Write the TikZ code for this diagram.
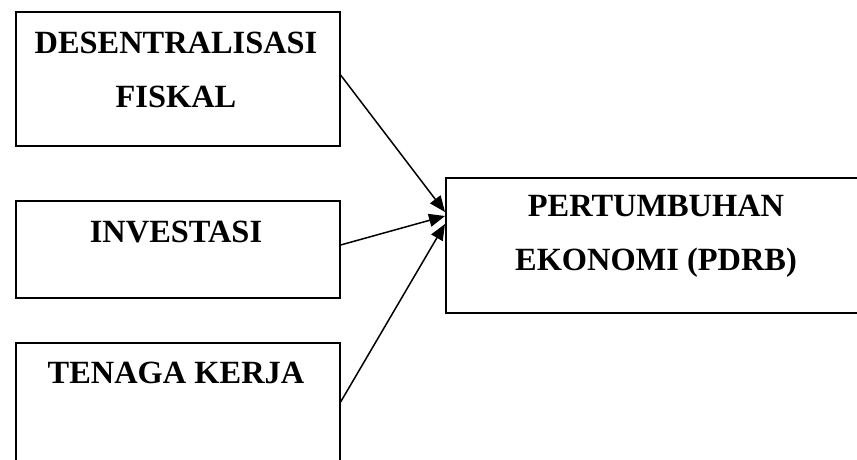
\documentclass[tikz,border=0pt]{standalone}
\usepackage{fontspec}
\setmainfont{Liberation Serif}
\usetikzlibrary{arrows.meta}
\begin{document}
\begin{tikzpicture}[x=1pt,y=-1pt,
  boxshape/.style={draw,line width=1.6pt,rectangle,inner sep=0pt,anchor=north west},
  lbl/.style={anchor=base,inner sep=0pt,font=\bfseries\fontsize{32.4}{38}\selectfont},
  link/.style={line width=1.5pt,-{Triangle[length=16pt,width=13pt]}}]
\useasboundingbox (0,0) rectangle (857,459);
\clip (0,0) rectangle (857,459);
\node[boxshape,minimum width=324pt,minimum height=134pt] (b1) at (15,11) {};
\node[boxshape,minimum width=324pt,minimum height=97pt] (b2) at (15,200) {};
\node[boxshape,minimum width=324pt,minimum height=140pt] (b3) at (15,342) {};
\node[boxshape,minimum width=430pt,minimum height=135pt] (b4) at (445,177) {};
\node[lbl] (t1a) at (176,53) {DESENTRALISASI};
\node[lbl] (t1b) at (176,107) {FISKAL};
\node[lbl] (t2) at (176,242) {INVESTASI};
\node[lbl] (t3) at (176,383) {TENAGA KERJA};
\node[lbl] (t4a) at (656,216) {PERTUMBUHAN};
\node[lbl] (t4b) at (656,270) {EKONOMI (PDRB)};
\coordinate (s1) at (b1.north east |- 0,75);
\coordinate (s2) at (b2.north east |- 0,245);
\coordinate (s3) at (b3.north east |- 0,402);
\coordinate (e1) at (b4.north west |- 0,212);
\coordinate (e2) at (b4.north west |- 0,216);
\coordinate (e3) at (b4.north west |- 0,224);
\draw[link] (s1) -- (e1);
\draw[link] (s2) -- (e2);
\draw[link] (s3) -- (e3);
\end{tikzpicture}
\end{document}
